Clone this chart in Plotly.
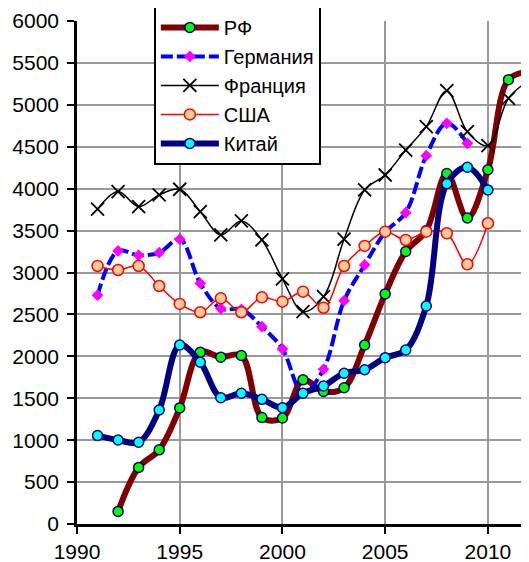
import plotly.graph_objects as go

years = list(range(1991, 2013))

rf = [None, 150, 675, 885, 1385, 2050, 1990, 2010, 1270, 1265, 1720, 1580, 1625,
      2135, 2745, 3250, 3500, 4180, 3650, 4225, 5300, 5395]
germany = [2730, 3257, 3205, 3237, 3397, 2871, 2570, 2560, 2354, 2088, 1560, 1846, 2664,
           3090, 3480, 3714, 4394, 4780, 4541, None, None, None]
france = [3755, 3965, 3786, 3925, 3993, 3726, 3448, 3615, 3388, 2923, 2533, 2712, 3397,
          3985, 4163, 4461, 4740, 5169, 4680, 4513, 5078, 5290]
usa = [3078, 3030, 3078, 2839, 2625, 2526, 2692, 2526, 2704, 2652, 2771, 2580, 3078,
       3317, 3487, 3388, 3487, 3468, 3098, 3587, None, None]
china = [1055, 1002, 975, 1360, 2135, 1930, 1507, 1559, 1487, 1388, 1559, 1646, 1798,
         1840, 1984, 2076, 2601, 4060, 4255, 3985, None, 5914]

names = ["РФ", "Германия", "Франция", "США", "Китай"]

FONT = "Liberation Sans, Arial, sans-serif"

fig = go.Figure()
fig.add_trace(go.Scatter(
    x=years, y=rf, name=names[0], mode="lines+markers",
    line=dict(color="#800000", width=6, shape="spline", smoothing=1),
    marker=dict(symbol="circle", size=10, color="#00FF00",
                line=dict(color="#000080", width=1.5)),
    connectgaps=False))
fig.add_trace(go.Scatter(
    x=years, y=germany, name=names[1], mode="lines+markers",
    line=dict(color="#0000FF", width=4, shape="spline", smoothing=1, dash="12px,4px"),
    marker=dict(symbol="diamond", size=9, color="#FF00FF",
                line=dict(color="#FF00FF", width=0))))
fig.add_trace(go.Scatter(
    x=years, y=france, name=names[2], mode="lines+markers",
    line=dict(color="#000000", width=1.5, shape="spline", smoothing=1),
    marker=dict(symbol="x-thin", size=13, color="#000000",
                line=dict(color="#000000", width=1.8))))
fig.add_trace(go.Scatter(
    x=years, y=usa, name=names[3], mode="lines+markers",
    line=dict(color="#FF0000", width=1.5, shape="spline", smoothing=1),
    marker=dict(symbol="circle", size=11, color="#FFCC99",
                line=dict(color="#FF0000", width=1.5))))
fig.add_trace(go.Scatter(
    x=years, y=china, name=names[4], mode="lines+markers",
    line=dict(color="#000080", width=6, shape="spline", smoothing=1),
    marker=dict(symbol="circle", size=10, color="#00FFFF",
                line=dict(color="#000080", width=1.5)),
    connectgaps=False))

fig.update_layout(
    width=521, height=554,
    margin=dict(l=69, r=0, t=13, b=38, autoexpand=False),
    paper_bgcolor="white", plot_bgcolor="white",
    font=dict(family=FONT, size=21, color="black"),
    showlegend=True,
    legend=dict(x=0.170, y=1.03, xanchor="left", yanchor="top",
                bgcolor="white", bordercolor="black", borderwidth=2,
                font=dict(family=FONT, size=20, color="black"),
                tracegroupgap=0, itemsizing="trace", itemwidth=58),
    xaxis=dict(range=[1990, 2012], tick0=1990, dtick=5, tickmode="linear",
               showgrid=True, gridcolor="#999999", gridwidth=2,
               showline=True, linecolor="black", linewidth=2.5,
               ticks="outside", ticklen=7, tickwidth=2, tickcolor="black",
               zeroline=False, tickfont=dict(family=FONT, size=21)),
    yaxis=dict(range=[0, 6000], tick0=0, dtick=500, tickmode="linear",
               showgrid=True, gridcolor="#999999", gridwidth=2,
               showline=True, linecolor="black", linewidth=2.5,
               ticks="outside", ticklen=7, tickwidth=2, tickcolor="black",
               zeroline=False, ticklabelstandoff=4,
               tickfont=dict(family=FONT, size=21)),
)

fig.write_html("out.html")
